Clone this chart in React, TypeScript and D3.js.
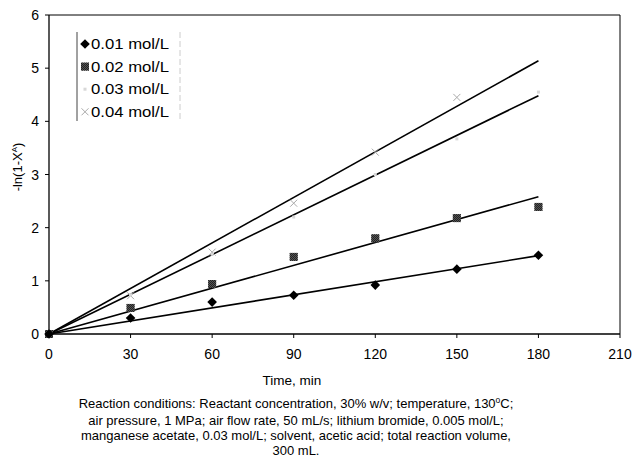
import React from "react";
import * as d3 from "d3";

const times = [0, 30, 60, 90, 120, 150, 180];
const s001 = [0, 0.3, 0.6, 0.73, 0.92, 1.22, 1.48];
const s002 = [0, 0.49, 0.94, 1.45, 1.8, 2.18, 2.39];
const s003 = [0, 0.74, 1.5, 2.2, 3.0, 3.67, 4.55];
const s004 = [0, 0.72, 1.54, 2.46, 3.42, 4.45];
const seriesNames = ["0.01 mol/L", "0.02 mol/L", "0.03 mol/L", "0.04 mol/L"];
const xTicks = [0, 30, 60, 90, 120, 150, 180, 210];
const yTicks = [0, 1, 2, 3, 4, 5, 6];
const captionLines = [
  "air pressure, 1 MPa; air flow rate, 50 mL/s; lithium bromide, 0.005 mol/L;",
  "manganese acetate, 0.03 mol/L; solvent, acetic acid; total reaction volume,",
  "300 mL.",
];

const W = 635, H = 456;
const left = 49, right = 620, top = 15, bottom = 334;
const font = "'Liberation Sans', Arial, sans-serif";

function slopeThroughOrigin(vals: number[]) {
  let sxy = 0, sxx = 0;
  vals.forEach((v, i) => { sxy += times[i] * v; sxx += times[i] * times[i]; });
  return sxy / sxx;
}

function Marker({ kind, x, y }: { kind: number; x: number; y: number }) {
  if (kind === 0) {
    const r = 4.8;
    return <path d={`M${x},${y - r}L${x + r},${y}L${x},${y + r}L${x - r},${y}Z`} fill="#000" />;
  }
  if (kind === 1) {
    return (
      <g>
        <rect x={x - 4} y={y - 4} width={8} height={8} fill="#555" />
        <rect x={x - 4} y={y - 4} width={8} height={8} fill="url(#checker)" />
      </g>
    );
  }
  if (kind === 2) {
    return <rect x={x - 1.5} y={y - 1.5} width={3} height={3} fill="#d8d8d8" />;
  }
  const r = 3.5;
  return (
    <path d={`M${x - r},${y - r}L${x + r},${y + r}M${x - r},${y + r}L${x + r},${y - r}`} stroke="#aaa" strokeWidth={1} fill="none" />
  );
}

export default function App() {
  const x = d3.scaleLinear().domain([0, 210]).range([left, right]);
  const y = d3.scaleLinear().domain([0, 6]).range([bottom, top]);
  const all = [s001, s002, s003, s004];
  const line = d3.line<[number, number]>().x((d) => x(d[0])).y((d) => y(d[1]));

  return (
    <svg width={W} height={H} style={{ position: "absolute", left: 0, top: 0, background: "#fff" }}>
      <defs>
        <pattern id="checker" width="2" height="2" patternUnits="userSpaceOnUse">
          <rect x="0" y="0" width="1" height="1" fill="#222" />
          <rect x="1" y="1" width="1" height="1" fill="#222" />
        </pattern>
      </defs>
      <rect width={W} height={H} fill="#fff" />
      {/* plot frame */}
      <line x1={left} x2={right} y1={top} y2={top} stroke="#000" strokeWidth={1} />
      <line x1={right} x2={right} y1={top} y2={bottom} stroke="#000" strokeWidth={1} />
      <line x1={left} x2={left} y1={top} y2={bottom} stroke="#000" strokeWidth={1.3} />
      <line x1={left} x2={right} y1={bottom} y2={bottom} stroke="#000" strokeWidth={1.3} />
      {/* ticks */}
      {xTicks.map((t) => (
        <g key={"x" + t}>
          <line x1={x(t)} x2={x(t)} y1={bottom} y2={bottom + 4} stroke="#000" />
          <text x={x(t)} y={359} textAnchor="middle" fontFamily={font} fontSize={14}>{t}</text>
        </g>
      ))}
      {yTicks.map((t) => (
        <g key={"y" + t}>
          <line x1={left - 4} x2={left} y1={y(t)} y2={y(t)} stroke="#000" />
          <text x={39} y={y(t) + 5} textAnchor="end" fontFamily={font} fontSize={14}>{t}</text>
        </g>
      ))}
      {/* trend lines */}
      {all.map((s, i) => {
        const k = slopeThroughOrigin(s);
        return <path key={"l" + i} d={line([[0, 0], [180, 180 * k]]) || ""} stroke="#000" strokeWidth={1.6} fill="none" />;
      })}
      {/* markers */}
      {[s004, s003, s002, s001].map((s, j) => {
        const kind = 3 - j;
        return s.map((v, i) => <Marker key={`m${kind}-${i}`} kind={kind} x={x(times[i])} y={y(v)} />);
      })}
      {/* legend */}
      <rect x={77} y={32} width={103} height={90} fill="#fff" stroke="none" />
      <line x1={77} x2={77} y1={32} y2={121} stroke="#444" strokeWidth={1} />
      <line x1={180} x2={180} y1={32} y2={121} stroke="#ccc" strokeWidth={1} strokeDasharray="6 3" />
      {seriesNames.map((n, i) => {
        const ly = 44 + i * 22.6;
        return (
          <g key={"lg" + i}>
            <Marker kind={i} x={85} y={ly} />
            <text x={91} y={ly + 5} fontFamily={font} fontSize={15} textLength={78} lengthAdjust="spacingAndGlyphs">{n}</text>
          </g>
        );
      })}
      {/* axis titles */}
      <text transform="translate(22,167) rotate(-90)" textAnchor="middle" fontFamily={font} fontSize={13}>
        -ln(1-X<tspan fontSize={8} dy={-5}>A</tspan><tspan dy={5}>)</tspan>
      </text>
      <text x={292} y={385} textAnchor="middle" fontFamily={font} fontSize={13.5}>Time, min</text>
      <text x={296} y={408} textAnchor="middle" fontFamily={font} fontSize={13}>
        Reaction conditions: Reactant concentration, 30% w/v; temperature, 130<tspan fontSize={8.5} dy={-5}>o</tspan><tspan dy={5}>C;</tspan>
      </text>
      {captionLines.map((c, i) => (
        <text key={"c" + i} x={296} y={424.5 + i * 15} textAnchor="middle" fontFamily={font} fontSize={13}>{c}</text>
      ))}
    </svg>
  );
}
